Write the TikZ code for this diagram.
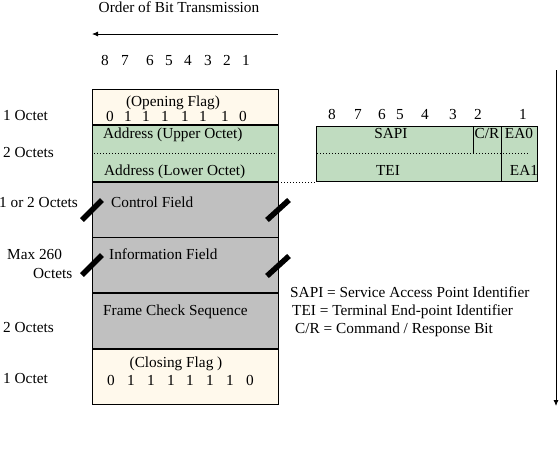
\documentclass[tikz,border=0pt]{standalone}
\usepackage{fontspec}
\setmainfont{Liberation Serif}
\usetikzlibrary{arrows.meta}
\definecolor{cream}{HTML}{FFF9EC}
\definecolor{hgreen}{HTML}{C0DCC0}
\definecolor{hgray}{HTML}{C0C0C0}
\begin{document}
\begin{tikzpicture}[x=1pt,y=-1pt, font=\fontsize{15.3}{18}\selectfont,
  lbl/.style={inner sep=0pt, anchor=base},
  lbll/.style={inner sep=0pt, anchor=base west},
  field/.style={draw=black, line width=0.8pt, minimum width=186pt, inner sep=0pt, outer sep=0pt},
  sepline/.style={line width=2pt},
  dotline/.style={dash pattern=on 1pt off 2pt, line width=0.8pt},
  slashmark/.style={line width=5.5pt},
  arr/.style={line width=0.8pt, -{Latex[length=6pt,width=5pt]}}]
\useasboundingbox (0,0) rectangle (560,456);

% title and direction arrow
\node[lbl] (title) at (179,12) {Order of Bit Transmission};
\coordinate (hstart) at (278,34);
\coordinate (hend) at (92,34);
\draw[arr] (hstart) -- (hend);
\foreach \x/\t [count=\i] in {105/8,125/7,150/6,169/5,188/4,208/3,227/2,246/1}
  \node[lbl] (tb\i) at (\x,65) {\t};

% frame fields
\node[field, fill=cream, minimum height=36pt] (flagA) at (185,107) {};
\node[field, fill=hgreen, minimum height=57pt] (addr) at (185,153.5) {};
\node[field, fill=hgray, minimum height=55pt] (ctrl) at (185,209.5) {};
\node[field, fill=hgray, minimum height=56pt] (info) at (185,265) {};
\node[field, fill=hgray, minimum height=56pt] (fcs) at (185,321) {};
\node[field, fill=cream, minimum height=55pt] (flagB) at (185,376.5) {};

\draw[sepline] (flagA.south west) -- (flagA.south east);
\draw[sepline] (addr.south west) -- (addr.south east);
\draw[sepline] (info.south west) -- (info.south east);
\draw[sepline] (fcs.south west) -- (fcs.south east);
\draw[dotline] (94,153) -- (276,153);

% field texts
\node[lbl] (toflag) at (173,106) {(Opening Flag)};
\foreach \x/\t [count=\i] in {110/0,128/1,146/1,165/1,185/1,203/1,225/1,243/0}
  \node[lbl] (ob\i) at (\x,121) {\t};
\node[lbll] (tup) at (103,138) {Address (Upper Octet)};
\node[lbll] (tlow) at (104,175) {Address (Lower Octet)};
\node[lbll] (tctrl) at (111,207) {Control Field};
\node[lbll] (tinfo) at (109,259) {Information Field};
\node[lbll] (tfcs) at (103,315) {Frame Check Sequence};
\node[lbl] (tcflag) at (176,367) {(Closing Flag )};
\foreach \x/\t [count=\i] in {111/0,131/1,151/1,171/1,190/1,210/1,230/1,250/0}
  \node[lbl] (cb\i) at (\x,385) {\t};

% left labels
\node[lbll] (l1) at (3,120) {1 Octet};
\node[lbll] (l2) at (3,157) {2 Octets};
\node[lbll] (l3) at (-1,207) {1 or 2 Octets};
\node[lbll] (l4) at (7,259) {Max 260};
\node[lbll] (l5) at (33,278) {Octets};
\node[lbll] (l6) at (3,332) {2 Octets};
\node[lbll] (l7) at (3,383) {1 Octet};

% slash marks
\draw[slashmark] (82,220) -- (102,200);
\draw[slashmark] (267,220) -- (289,200);
\draw[slashmark] (82,275) -- (102,255);
\draw[slashmark] (267,276) -- (289,256);

% address detail table
\node[draw=black, line width=0.8pt, fill=hgreen, minimum width=221pt, minimum height=55pt, inner sep=0pt, outer sep=0pt] (tbl) at (426.5,153.5) {};
\draw[line width=0.8pt] (473,126) -- (473,153);
\draw[line width=0.8pt] (501,126) -- (501,181);
\draw[dotline] (317,153) -- (501,153);
\draw[dotline] (503,153) -- (528,153);
\foreach \x/\t [count=\i] in {332/8,358/7,382/6,400/5,425/4,453/3,478/2,523/1}
  \node[lbl] (rb\i) at (\x,119) {\t};
\node[lbl] (tsapi) at (391,138) {SAPI};
\node[lbl] (tcr) at (487,138) {C/R};
\node[lbl] (tea0) at (519,138) {EA0};
\node[lbl] (ttei) at (388,175) {TEI};
\node[lbl] (tea1) at (524,175) {EA1};
\draw[dotline] (addr.south east) -- (addr.south east -| tbl.west);

% legend
\node[lbll] (g1) at (290,297) {SAPI = Service Access Point Identifier};
\node[lbll] (g2) at (292,315) {TEI = Terminal End-point Identifier};
\node[lbll] (g3) at (295,333) {C/R = Command / Response Bit};

% vertical arrow
\coordinate (vstart) at (556,70);
\coordinate (vend) at (556,406);
\draw[arr] (vstart) -- (vend);
\end{tikzpicture}
\end{document}
